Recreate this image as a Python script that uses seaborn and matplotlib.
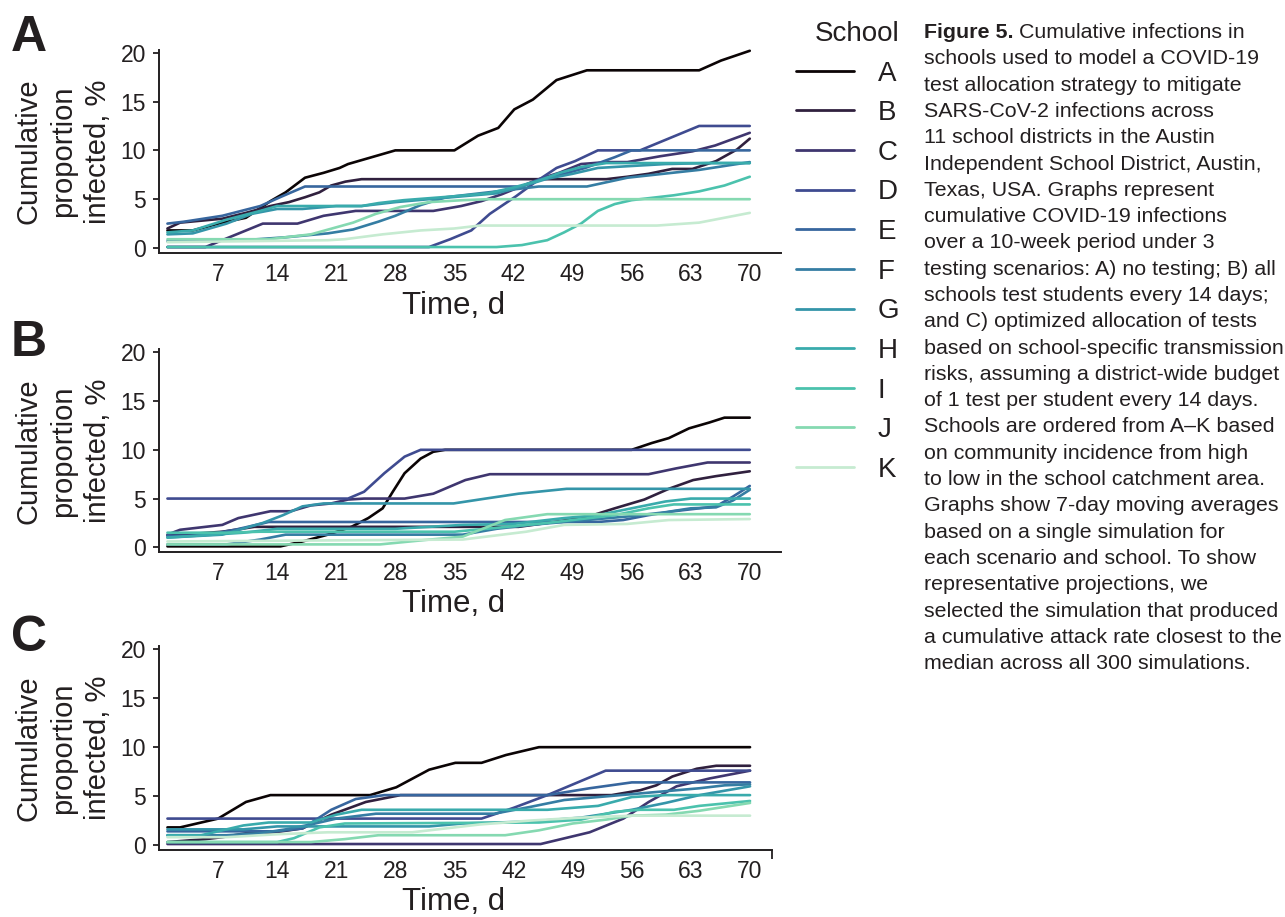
import matplotlib
matplotlib.use("Agg")
import matplotlib.pyplot as plt
from matplotlib.lines import Line2D
import seaborn as sns
import pandas as pd

# ---------------- data ----------------
schools = ["A", "B", "C", "D", "E", "F", "G", "H", "I", "J", "K"]
x_ticks = [7, 14, 21, 28, 35, 42, 49, 56, 63, 70]
y_ticks = [0, 5, 10, 15, 20]

# Panel A: no testing  (day, cumulative % infected)
panel_a = {
    "A": [(1, 1.8), (4, 1.8), (7.5, 2.6), (10.3, 3.1), (13.2, 4.8), (15, 5.7), (17.3, 7.2), (19.5, 7.7), (21.4, 8.2), (22.4, 8.6), (24.8, 9.2), (28, 10), (35, 10), (37.8, 11.5), (40.2, 12.3), (42.1, 14.2), (44.3, 15.2), (47.1, 17.2), (50.7, 18.2), (64, 18.2), (66.6, 19.2), (70, 20.2)],
    "B": [(1, 2.0), (2.5, 2.6), (7.5, 3.0), (10.3, 3.6), (13.2, 4.3), (15.4, 4.7), (17.3, 5.2), (19, 5.7), (20.4, 6.4), (22.1, 6.8), (24, 7.05), (53, 7.05), (55.5, 7.3), (58, 7.6), (60.8, 8.1), (63.2, 8.1), (66, 8.9), (68.5, 10.1), (70, 11.2)],
    "C": [(1, 0.1), (5.5, 0.1), (12.3, 2.5), (16.4, 2.5), (19.5, 3.3), (23.3, 3.8), (32.5, 3.8), (35.8, 4.3), (38.2, 4.8), (40.6, 5.5), (42.6, 6.2), (45, 7.05), (47.4, 7.7), (50, 8.6), (53, 8.8), (55.5, 8.8), (59.4, 9.4), (63.2, 9.9), (65.9, 10.5), (70, 11.8)],
    "D": [(1, 0.1), (32, 0.1), (34.5, 0.9), (37, 1.8), (39.2, 3.5), (42.3, 5.3), (44.5, 6.7), (47.1, 8.2), (49.3, 8.9), (52, 10), (57, 10), (64, 12.5), (70, 12.5)],
    "E": [(1, 2.5), (3, 2.7), (7.5, 3.3), (12, 4.3), (14.6, 5.3), (17.3, 6.3), (43, 6.3), (45, 7.0), (48, 7.6), (50.5, 8.2), (54, 9.3), (56, 10), (70, 10)],
    "F": [(1, 0.7), (10, 0.8), (15, 1.1), (20, 1.5), (23, 1.9), (26, 2.7), (28, 3.3), (31, 4.4), (34, 5.2), (37, 5.5), (40, 5.8), (43, 6.1), (45, 6.3), (50.7, 6.3), (55.5, 7.2), (60.8, 7.7), (64, 8.0), (70, 8.8)],
    "G": [(1, 1.4), (4, 1.5), (8, 2.5), (11, 3.5), (14, 4.0), (17, 4.0), (21, 4.3), (24, 4.3), (28, 4.7), (32, 5.0), (36, 5.3), (40, 5.6), (43, 6.3), (46, 7.1), (49, 7.6), (52, 8.2), (56, 8.4), (60, 8.6), (65, 8.7), (70, 8.7)],
    "H": [(1, 1.6), (4, 1.8), (8, 2.9), (12, 3.8), (14, 4.3), (24, 4.3), (26, 4.6), (29, 4.9), (32, 5.1), (35, 5.3), (39, 5.6), (42, 6.2), (45, 6.9), (47.5, 7.7), (50, 8.3), (53, 8.7), (70, 8.7)],
    "I": [(1, 0.1), (40, 0.1), (43, 0.3), (46, 0.8), (48, 1.6), (50, 2.5), (52, 3.8), (54, 4.5), (56, 4.9), (58, 5.1), (61, 5.4), (64, 5.8), (67, 6.4), (70, 7.3)],
    "J": [(1, 0.9), (13, 0.9), (18, 1.4), (23, 2.6), (25.7, 3.5), (28.6, 4.2), (32, 4.7), (36, 4.9), (39, 5.0), (70, 5.0)],
    "K": [(1, 0.6), (20, 0.8), (22, 0.9), (26.5, 1.4), (31, 1.8), (35, 2.0), (38, 2.3), (59, 2.3), (64, 2.6), (70, 3.6)],
}

# Panel B: all schools test every 14 days
panel_b = {
    "A": [(1, 0.1), (14.4, 0.1), (17, 0.6), (20, 1.3), (22.8, 2.1), (24.8, 3.0), (26.5, 4.0), (27.7, 5.7), (29.1, 7.6), (31, 9.1), (32.5, 9.8), (33.9, 10), (56, 10), (58.4, 10.7), (60.4, 11.2), (62.8, 12.2), (65.2, 12.8), (67, 13.3), (70, 13.3)],
    "B": [(1, 1.2), (7.5, 1.6), (11.3, 2.1), (42.6, 2.1), (46, 2.5), (50.7, 3.1), (54, 4.0), (57.5, 4.9), (60.4, 6.0), (63.3, 6.9), (66, 7.3), (70, 7.8)],
    "C": [(1, 1.3), (2.5, 1.8), (5.5, 2.1), (7.5, 2.3), (9.4, 3.0), (13.2, 3.7), (15.6, 3.7), (18, 4.3), (20.4, 4.5), (22.4, 4.9), (24.3, 5.0), (29.1, 5.0), (32.5, 5.5), (36.3, 6.9), (39.2, 7.5), (58, 7.5), (61.3, 8.1), (65, 8.7), (70, 8.7)],
    "D": [(1, 5.0), (22.4, 5.0), (24.3, 5.7), (26.7, 7.6), (29.1, 9.3), (31, 10), (70, 10)],
    "E": [(1, 1.2), (5, 1.2), (9, 1.8), (13, 2.6), (52, 2.6), (55, 2.8), (58, 3.3), (61, 3.7), (64, 4.0), (66, 4.2), (68, 5.2), (70, 6.3)],
    "F": [(1, 0.3), (8, 0.3), (12, 0.8), (15, 1.3), (36, 1.3), (40, 1.9), (44, 2.3), (48, 2.6), (52, 2.9), (56, 3.2), (60, 3.6), (63, 4.0), (66, 4.1), (68, 4.8), (70, 5.9)],
    "G": [(1, 1.0), (7.5, 1.3), (12.3, 2.5), (14.7, 3.3), (17, 4.2), (19.5, 4.5), (34.9, 4.5), (38.7, 5.0), (42.6, 5.5), (48.3, 6.0), (70, 6.0)],
    "H": [(1, 1.0), (10, 1.5), (14, 1.9), (28, 1.9), (32, 2.1), (36, 2.3), (42, 2.4), (48, 3.0), (52, 3.3), (56, 4.0), (60, 4.7), (63, 5.0), (70, 5.0)],
    "I": [(1, 1.5), (8, 1.5), (12, 1.6), (35, 1.6), (40, 2.0), (46, 2.5), (50, 2.9), (54, 3.3), (58, 4.0), (61, 4.4), (70, 4.4)],
    "J": [(1, 0.3), (26.2, 0.3), (31.5, 0.75), (36, 1.1), (41, 2.8), (46, 3.4), (70, 3.4)],
    "K": [(1, 0.6), (36, 0.8), (43.5, 1.6), (48, 2.3), (55.5, 2.4), (60.4, 2.8), (70, 2.9)],
}

# Panel C: optimized allocation of tests
panel_c = {
    "A": [(1, 1.8), (2.5, 1.8), (5, 2.3), (7, 2.7), (10.3, 4.4), (13.2, 5.1), (25, 5.1), (28.1, 5.9), (32, 7.7), (35.1, 8.4), (38.2, 8.4), (41.1, 9.2), (45, 10), (70, 10)],
    "B": [(1, 0.3), (5.5, 0.6), (7.5, 0.8), (10.3, 1.2), (13.7, 1.3), (17, 1.7), (20.4, 3.1), (24.5, 4.4), (28.6, 5.1), (53.6, 5.1), (57, 5.6), (58.9, 6.1), (60.8, 7.0), (63.7, 7.8), (66, 8.1), (70, 8.1)],
    "C": [(1, 0.1), (45.2, 0.1), (51, 1.3), (55, 2.7), (58, 4.4), (61.3, 6.0), (65.2, 6.8), (70, 7.6)],
    "D": [(1, 2.7), (38.2, 2.7), (42, 3.8), (46, 5.1), (52.9, 7.6), (70, 7.6)],
    "E": [(1, 1.4), (14, 1.4), (17, 1.7), (20.4, 3.6), (23.3, 4.7), (26.7, 5.1), (46, 5.1), (51, 5.8), (56, 6.4), (70, 6.4)],
    "F": [(1, 1.0), (8, 1.0), (12, 1.2), (15, 1.6), (18, 2.1), (21, 2.7), (25.7, 3.2), (39.7, 3.2), (44, 3.9), (48, 4.6), (52, 4.9), (56, 5.2), (60, 5.5), (64, 5.8), (67, 6.1), (70, 6.2)],
    "G": [(1, 1.6), (10, 1.6), (14, 1.9), (32, 1.9), (36, 2.2), (44, 2.4), (50, 2.8), (56, 3.6), (60, 4.3), (64, 5.1), (70, 6.0)],
    "H": [(1, 1.0), (5, 1.0), (10, 2.0), (13, 2.3), (18, 2.3), (21, 3.1), (24, 3.6), (46, 3.6), (52, 4.0), (56, 4.9), (60, 5.1), (70, 5.1)],
    "I": [(1, 0.3), (14, 0.3), (16, 0.7), (19, 1.8), (22, 2.2), (45, 2.3), (50, 2.6), (54, 3.4), (57, 3.6), (61, 3.6), (64, 4.0), (70, 4.5)],
    "J": [(1, 0.3), (18, 0.3), (22, 0.6), (26, 1.0), (41, 1.0), (45, 1.5), (49, 2.2), (53, 2.6), (56, 3.0), (60, 3.1), (64, 3.5), (67, 3.9), (70, 4.3)],
    "K": [(1, 0.8), (8, 0.8), (14, 1.1), (20, 1.3), (30, 1.3), (38, 2.1), (44, 2.5), (50, 2.8), (56, 3.0), (70, 3.0)],
}

caption_lines = [
    "Cumulative infections in",
    "schools used to model a COVID-19",
    "test allocation strategy to mitigate",
    "SARS-CoV-2 infections across",
    "11 school districts in the Austin",
    "Independent School District, Austin,",
    "Texas, USA. Graphs represent",
    "cumulative COVID-19 infections",
    "over a 10-week period under 3",
    "testing scenarios: A) no testing; B) all",
    "schools test students every 14 days;",
    "and C) optimized allocation of tests",
    "based on school-specific transmission",
    "risks, assuming a district-wide budget",
    "of 1 test per student every 14 days.",
    "Schools are ordered from A\u2013K based",
    "on community incidence from high",
    "to low in the school catchment area.",
    "Graphs show 7-day moving averages",
    "based on a single simulation for",
    "each scenario and school. To show",
    "representative projections, we",
    "selected the simulation that produced",
    "a cumulative attack rate closest to the",
    "median across all 300 simulations.",
]

# ---------------- style ----------------
sns.set_style("ticks")
FONT = ["Liberation Sans", "DejaVu Sans"]
plt.rcParams["font.family"] = FONT
TXT = "#231f20"
plt.rcParams["text.color"] = TXT
plt.rcParams["axes.edgecolor"] = TXT
plt.rcParams["xtick.color"] = TXT
plt.rcParams["ytick.color"] = TXT

mako = sns.color_palette("mako", as_cmap=True)
mako_pos = [0.0, 0.15, 0.26, 0.34, 0.43, 0.51, 0.59, 0.67, 0.75, 0.85, 0.95]
palette = dict(zip(schools, [mako(v) for v in mako_pos]))

W, H = 1285, 917
fig = plt.figure(figsize=(W / 100, H / 100), dpi=100)


def to_df(panel):
    rows = []
    for s in schools:
        for d, v in panel[s]:
            rows.append({"day": d, "value": v, "school": s})
    return pd.DataFrame(rows)


def px_rect(left, top, right, bottom):
    return [left / W, 1 - bottom / H, (right - left) / W, (bottom - top) / H]


panels = [
    ("A", panel_a, px_rect(159, 49.8, 781, 252.9), 73.7, 306),
    ("B", panel_b, px_rect(159, 349.4, 781, 552.2), 73.7, 604),
    ("C", panel_c, px_rect(159, 646.4, 772, 849.9), 72.6, 902),
]

for letter, data, rect, xmax, xlab_y in panels:
    ax = fig.add_axes(rect)
    df = to_df(data)
    sns.lineplot(data=df, x="day", y="value", hue="school", hue_order=schools,
                 palette=palette, estimator=None, sort=False, legend=False,
                 linewidth=1.9, ax=ax)
    for ln in ax.get_lines():
        ln.set_clip_on(False)
    ax.set_xlim(0, xmax)
    ax.set_ylim(-0.5, 20.3)
    ax.set_xticks(x_ticks)
    ax.set_yticks(y_ticks)
    ax.tick_params(axis="x", length=0, pad=7, labelsize=16.5)
    ax.tick_params(axis="y", length=4.5, width=1.3, pad=5, labelsize=16.5)
    if letter == "C":
        ax.set_xticks([xmax], minor=True)
        ax.tick_params(axis="x", which="minor", length=6.5, width=1.3)
    for sp in ["top", "right"]:
        ax.spines[sp].set_visible(False)
    for sp in ["left", "bottom"]:
        ax.spines[sp].set_linewidth(1.4)
    ax.set_xlabel("")
    ax.set_ylabel("")
    # axis titles
    fig.text(454 / W, 1 - xlab_y / H, "Time, d", ha="center", va="center",
             fontsize=22.5)
    y_mid = (rect[1] + rect[1] + rect[3]) / 2
    fig.text(63 / W, y_mid, "Cumulative\nproportion\ninfected, %", rotation=90,
             ha="center", va="center", multialignment="center", fontsize=21,
             linespacing=1.3)

# panel letters
for lab, ytop in [("A", 15), ("B", 320), ("C", 615)]:
    fig.text(11 / W, 1 - ytop / H, lab, ha="left", va="top", fontsize=36,
             fontweight="bold")

# legend
handles = [Line2D([], [], color=palette[s], linewidth=2.0) for s in schools]
leg = fig.legend(handles, schools, title="School", loc="upper left",
                 bbox_to_anchor=(796 / W, 1 - 21 / H), frameon=False,
                 fontsize=20, title_fontsize=20, handlelength=2.1,
                 handletextpad=0.85, labelspacing=0.49, borderpad=0,
                 borderaxespad=0)
leg._legend_box.align = "right"

# caption
x0 = 924
base0 = 38
step = 26.3
fs_cap = 15.4
fig.canvas.draw()
renderer = fig.canvas.get_renderer()
t_bold = fig.text(x0 / W, 1 - base0 / H, "Figure 5.", ha="left",
                  va="baseline", fontsize=fs_cap, fontweight="bold")
bb = t_bold.get_window_extent(renderer=renderer)
space_px = fs_cap * 100 / 72 * 0.278
for i, line in enumerate(caption_lines):
    y = 1 - (base0 + i * step) / H
    if i == 0:
        fig.text((bb.x1 + space_px) / W, y, line, ha="left", va="baseline",
                 fontsize=fs_cap)
    else:
        fig.text(x0 / W, y, line, ha="left", va="baseline", fontsize=fs_cap)

fig.savefig("out.png", dpi=100)
